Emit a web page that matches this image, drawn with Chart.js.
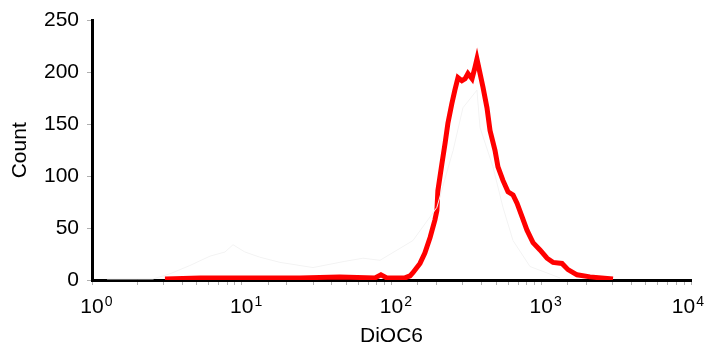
<!DOCTYPE html>
<html>
<head>
<meta charset="utf-8">
<script src="https://cdn.jsdelivr.net/npm/chart.js@4"></script>
<style>
  body { margin: 0; background: #fff; }
  #wrap { width: 708px; height: 347px; position: relative; }
</style>
</head>
<body>
<div id="wrap"><canvas id="histo"></canvas></div>
<script>
// DiOC6 histogram (red) with a faint control trace behind it
const redX = [3.07, 5.3, 11.4, 24.5, 45, 77.6, 85, 93, 123, 133, 139, 155, 167, 181, 195, 201, 204, 217, 228, 238, 253, 265, 278, 295, 310, 324, 345, 361, 372, 408, 434, 455, 491, 514, 555, 600, 648, 689, 744, 803, 881, 981, 1093, 1198, 1376, 1509, 1733, 2116, 3014];
const redY = [1, 2, 2, 2, 3, 2, 5, 2, 2, 4, 7, 16, 26, 41, 58, 67, 86, 112, 132, 151, 170, 183, 195, 192, 194, 199, 194, 205, 213, 186, 166, 144, 125, 109, 96, 85, 82, 74, 61, 48, 36, 29, 21, 17, 16, 10, 5, 3, 1];

const grayX = [1.26, 2.0, 2.55, 3.32, 4.51, 6.14, 7.73, 8.74, 10.5, 13.2, 18, 29.9, 48.9, 64.5, 83.8, 139, 201, 258, 300, 372, 390, 476, 555, 648, 841, 1334];
const grayY = [1, 1, 1, 6, 14, 23, 27, 34, 27, 22, 17, 12, 18, 21, 19, 38, 70, 125, 166, 183, 147, 109, 70, 38, 13, 2];

const yTicks = [0, 50, 100, 150, 200, 250];
const decades = [0, 1, 2, 3, 4];

const FAMILY = '"Liberation Sans", Arial, sans-serif';
const FONT = { family: FAMILY, size: 21 };

function toPoints(xs, ys) {
    return xs.map((x, i) => ({ x: x, y: ys[i] }));
}

// "10" centred on the tick, small exponent to the upper right
const powerLabels = {
    id: 'powerLabels',
    afterDraw(chart) {
        const ctx = chart.ctx;
        const xs = chart.scales.x;
        ctx.save();
        ctx.fillStyle = '#000';
        ctx.textBaseline = 'alphabetic';
        ctx.textAlign = 'left';
        decades.forEach(d => {
            const px = xs.getPixelForValue(Math.pow(10, d));
            ctx.font = '21px ' + FAMILY;
            const w = ctx.measureText('10').width;
            ctx.font = '14px ' + FAMILY;
            const ew = ctx.measureText(String(d)).width;
            let left = px - w / 2;
            // keep the last label inside the canvas
            if (left + w + 1 + ew > chart.width - 4) left = chart.width - 4 - ew - 1 - w;
            ctx.font = '21px ' + FAMILY;
            ctx.fillText('10', left, 313);
            ctx.font = '14px ' + FAMILY;
            ctx.fillText(String(d), left + w + 1, 306);
        });
        ctx.restore();
    }
};

new Chart(document.getElementById('histo'), {
    type: 'line',
    data: {
        datasets: [{
            label: 'control',
            data: toPoints(grayX, grayY),
            borderColor: '#f3f3f3',
            borderWidth: 1,
            pointRadius: 0,
            tension: 0
        }, {
            label: 'DiOC6',
            data: toPoints(redX, redY),
            borderColor: '#ff0000',
            borderWidth: 5,
            pointRadius: 0,
            tension: 0
        }]
    },
    options: {
        responsive: true,
        maintainAspectRatio: false,
        animation: false,
        layout: { padding: { top: 20, right: 17, left: 0, bottom: 0 } },
        plugins: {
            legend: { display: false },
            tooltip: { enabled: false }
        },
        scales: {
            x: {
                type: 'logarithmic',
                min: 1,
                max: 10000,
                afterFit: scale => { scale.height = 67; },
                border: { color: '#000', width: 3 },
                grid: { drawOnChartArea: false, color: '#b0b0b0', tickLength: 5 },
                ticks: {
                    autoSkip: false,
                    maxRotation: 0,
                    font: FONT,
                    padding: 8,
                    callback: () => ''
                },
                title: {
                    display: true,
                    text: 'DiOC6',
                    color: '#000',
                    font: { family: FAMILY, size: 21, lineHeight: 1 },
                    padding: { top: 0, bottom: 0 }
                }
            },
            y: {
                min: 0,
                max: 250,
                afterFit: scale => { scale.width = 92; },
                border: { color: '#000', width: 3 },
                grid: { drawOnChartArea: false, color: '#b0b0b0', tickLength: 5 },
                ticks: {
                    stepSize: 25,
                    color: '#000',
                    font: FONT,
                    padding: 8,
                    callback: value => yTicks.includes(value) ? value : ''
                },
                title: {
                    display: true,
                    text: 'Count',
                    color: '#000',
                    font: { family: FAMILY, size: 21, lineHeight: 1 },
                    padding: { top: 10, bottom: 0 }
                }
            }
        }
    },
    plugins: [powerLabels]
});
</script>
</body>
</html>
